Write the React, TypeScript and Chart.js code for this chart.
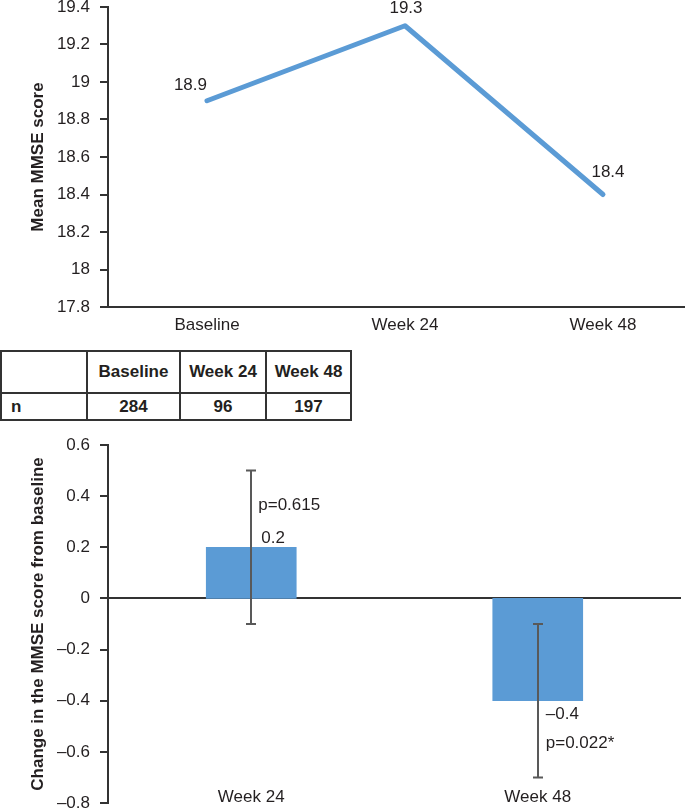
import React, { useEffect, useRef } from 'react';
import { Chart, registerables } from 'chart.js';

Chart.register(...registerables);

// ---------- data ----------
const timepoints = ['Baseline', 'Week 24', 'Week 48'];
const meanMmse = [18.9, 19.3, 18.4];
const meanAxis = { min: 17.8, max: 19.4, step: 0.2 };
const nCounts = [284, 96, 197];

const changeCategories = ['Week 24', 'Week 48'];
const changeValues = [0.2, -0.4];
const ciLow = [-0.1, -0.7];
const ciHigh = [0.5, -0.1];
const pValues = ['p=0.615', 'p=0.022*'];
const changeAxis = { min: -0.8, max: 0.6, step: 0.2 };

// ---------- styles ----------
const FONT = '"Liberation Sans", Arial, sans-serif';
const TEXT = '#231F20';
const AXIS = '#333333';
const BLUE = '#5B9BD5';
const ERR = '#595959';

const fmt = (v: number) => {
  const r = Math.round(v * 10) / 10;
  return r < 0 ? '\u2013' + Math.abs(r) : String(Math.abs(r) === 0 ? 0 : r);
};

const LINE_LABEL_OFFSETS = [
  { align: 'right', dx: 0, dy: -15 },
  { align: 'center', dx: 1, dy: -17 },
  { align: 'center', dx: 5, dy: -22 },
];

const lineLabelPlugin = {
  id: 'lineLabels',
  afterDatasetsDraw(chart: any) {
    const meta = chart.getDatasetMeta(0);
    const ctx = chart.ctx;
    ctx.save();
    ctx.font = `17px ${FONT}`;
    ctx.fillStyle = TEXT;
    ctx.textBaseline = 'middle';
    meta.data.forEach((pt: any, i: number) => {
      const o = LINE_LABEL_OFFSETS[i];
      ctx.textAlign = o.align;
      ctx.fillText(String(meanMmse[i]), pt.x + o.dx, pt.y + o.dy);
    });
    ctx.restore();
  },
};

const barExtrasPlugin = {
  id: 'barExtras',
  afterDatasetsDraw(chart: any) {
    const { ctx, chartArea, scales } = chart;
    const x = scales.x;
    const y = scales.y;
    ctx.save();
    // error bars
    ctx.strokeStyle = ERR;
    ctx.lineWidth = 2;
    changeValues.forEach((_v, i) => {
      const cx = Math.round(x.getPixelForValue(i));
      const yl = y.getPixelForValue(ciLow[i]);
      const yh = y.getPixelForValue(ciHigh[i]);
      ctx.beginPath();
      ctx.moveTo(cx, yh);
      ctx.lineTo(cx, yl);
      ctx.moveTo(cx - 5, yh);
      ctx.lineTo(cx + 5, yh);
      ctx.moveTo(cx - 5, yl);
      ctx.lineTo(cx + 5, yl);
      ctx.stroke();
    });
    // value and p labels
    ctx.font = `17px ${FONT}`;
    ctx.fillStyle = TEXT;
    ctx.textBaseline = 'middle';
    ctx.textAlign = 'left';
    changeValues.forEach((v, i) => {
      const cx = x.getPixelForValue(i);
      const yv = y.getPixelForValue(v);
      if (v >= 0) {
        ctx.fillText(fmt(v), cx + 10, yv - 9);
        ctx.fillText(pValues[i], cx + 7, yv - 42);
      } else {
        ctx.fillText(fmt(v), cx + 8, yv + 14);
        ctx.fillText(pValues[i], cx + 8, yv + 43);
      }
    });
    // category labels
    ctx.textAlign = 'center';
    changeCategories.forEach((c, i) => {
      ctx.fillText(c, x.getPixelForValue(i), chartArea.bottom - 6);
    });
    ctx.restore();
  },
};

function yAfterFit(scale: any) {
  scale.width = 108;
  scale.paddingTop = 0;
  scale.paddingBottom = 0;
}

function MeanChart() {
  const ref = useRef<HTMLCanvasElement | null>(null);
  useEffect(() => {
    if (!ref.current) return;
    const chart = new Chart(ref.current, {
      type: 'line',
      data: {
        labels: timepoints,
        datasets: [
          {
            data: meanMmse,
            borderColor: BLUE,
            backgroundColor: BLUE,
            borderWidth: 5,
            pointRadius: 0,
            pointHoverRadius: 0,
            tension: 0,
            borderCapStyle: 'round',
            borderJoinStyle: 'round',
            clip: false,
          } as any,
        ],
      },
      options: {
        responsive: false,
        animation: false,
        events: [],
        layout: { padding: { top: 7, left: 0, right: 0, bottom: 0 } },
        plugins: { legend: { display: false }, tooltip: { enabled: false } },
        scales: {
          x: {
            type: 'category',
            offset: true,
            grid: { display: false, drawTicks: false },
            border: { display: true, color: AXIS, width: 2 },
            ticks: { color: TEXT, font: { family: FONT, size: 17 }, padding: 8, maxRotation: 0 },
            afterFit: (s: any) => {
              s.height = 38;
            },
          },
          y: {
            min: meanAxis.min,
            max: meanAxis.max,
            grid: { display: true, drawOnChartArea: false, tickLength: 8, tickColor: AXIS, lineWidth: 2 },
            border: { display: true, color: AXIS, width: 2 },
            ticks: {
              stepSize: meanAxis.step,
              color: TEXT,
              font: { family: FONT, size: 17 },
              padding: 10,
              callback: (v: any) => fmt(Number(v)),
            },
            title: {
              display: true,
              text: 'Mean MMSE score',
              color: TEXT,
              font: { family: FONT, size: 17, weight: 'bold' },
              padding: { top: 28, bottom: 0 },
            },
            afterFit: yAfterFit,
          },
        },
      } as any,
      plugins: [lineLabelPlugin],
    });
    return () => chart.destroy();
  }, []);
  return (
    <canvas
      ref={ref}
      width={702}
      height={345}
      style={{ position: 'absolute', left: 0, top: 0, display: 'block' }}
    />
  );
}

function ChangeChart() {
  const ref = useRef<HTMLCanvasElement | null>(null);
  useEffect(() => {
    if (!ref.current) return;
    const chart = new Chart(ref.current, {
      type: 'bar',
      data: {
        labels: changeCategories,
        datasets: [
          {
            data: changeValues,
            backgroundColor: BLUE,
            borderWidth: 0,
            barThickness: 90,
          } as any,
        ],
      },
      options: {
        responsive: false,
        animation: false,
        events: [],
        layout: { padding: { top: 15, left: 0, right: 4, bottom: 6 } },
        plugins: { legend: { display: false }, tooltip: { enabled: false } },
        scales: {
          x: {
            type: 'category',
            offset: true,
            display: false,
          },
          y: {
            min: changeAxis.min,
            max: changeAxis.max,
            grid: {
              display: true,
              drawOnChartArea: true,
              tickLength: 8,
              tickColor: AXIS,
              lineWidth: 2,
              color: (c: any) =>
                c.tick && Math.abs(c.tick.value) < 1e-9 ? AXIS : 'rgba(0,0,0,0)',
            },
            border: { display: true, color: AXIS, width: 2 },
            ticks: {
              stepSize: changeAxis.step,
              color: TEXT,
              font: { family: FONT, size: 17 },
              padding: 10,
              callback: (v: any) => fmt(Number(v)),
            },
            title: {
              display: true,
              text: 'Change in the MMSE score from baseline',
              color: TEXT,
              font: { family: FONT, size: 17, weight: 'bold' },
              padding: { top: 28, bottom: 0 },
            },
            afterFit: yAfterFit,
          },
        },
      } as any,
      plugins: [barExtrasPlugin],
    });
    return () => chart.destroy();
  }, []);
  return (
    <canvas
      ref={ref}
      width={685}
      height={379}
      style={{ position: 'absolute', left: 0, top: 430, display: 'block' }}
    />
  );
}

const COL_X = [1, 87, 180, 266, 351];
const ROW_Y = [351, 393, 420];

function CountTable() {
  const rows = [
    ['', ...timepoints],
    ['n', ...nCounts.map(String)],
  ];
  const cells: React.ReactNode[] = [];
  rows.forEach((row, r) => {
    row.forEach((txt, c) => {
      const left = COL_X[c] - 1;
      const top = ROW_Y[r] - 1;
      const w = COL_X[c + 1] - COL_X[c] + 2;
      const h = ROW_Y[r + 1] - ROW_Y[r] + 2;
      cells.push(
        <div
          key={`${r}-${c}`}
          style={{
            position: 'absolute',
            left,
            top,
            width: w,
            height: h,
            boxSizing: 'border-box',
            border: `2px solid ${AXIS}`,
            display: 'flex',
            alignItems: 'center',
            justifyContent: c === 0 ? 'flex-start' : 'center',
            paddingLeft: c === 0 ? 9 : 0,
            fontFamily: FONT,
            fontWeight: 'bold',
            fontSize: 17,
            color: TEXT,
            whiteSpace: 'nowrap',
          }}
        >
          {txt}
        </div>
      );
    });
  });
  return <>{cells}</>;
}

export default function App() {
  return (
    <div
      style={{
        position: 'absolute',
        left: 0,
        top: 0,
        width: 685,
        height: 809,
        overflow: 'hidden',
        background: '#ffffff',
      }}
    >
      <MeanChart />
      <CountTable />
      <ChangeChart />
    </div>
  );
}
